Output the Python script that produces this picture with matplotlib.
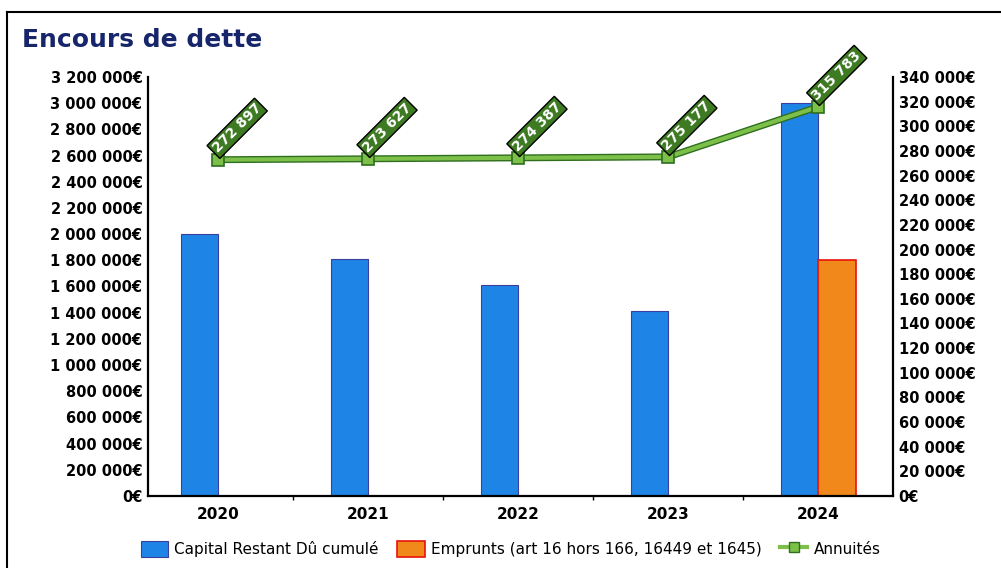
import numpy as np
import matplotlib
matplotlib.use("Agg")
import matplotlib.pyplot as plt
from matplotlib.ticker import FuncFormatter, MultipleLocator
from matplotlib.lines import Line2D

plt.rcParams['font.family'] = ['DejaVu Sans']

years = ['2020', '2021', '2022', '2023', '2024']
capital = [2000000, 1810000, 1610000, 1410000, 3000000]
emprunts = [0, 0, 0, 0, 1800000]
annuites = [272897, 273627, 274387, 275177, 315783]
annuite_labels = ['272 897', '273 627', '274 387', '275 177', '315 783']


def euro(v, pos=None):
    s = '{:,.0f}'.format(v).replace(',', ' ')
    return s + '€'


fig = plt.figure(figsize=(10.01, 5.68), dpi=100)
ax = fig.add_axes([148/1001, 1-496/568, 745/1001, 419/568])

x = np.arange(len(years))
w = 0.25
ax.bar(x - w/2, capital, w, color='#1e84e6', edgecolor='#3b3fa0', linewidth=0.8, zorder=2)
ax.bar(x + w/2, emprunts, w, color='#f0881c', edgecolor='#e8120c', linewidth=1.2, zorder=2)

ax.set_xlim(-0.47, 4.5)
ax.set_ylim(0, 3200000)
ax.set_xticks(x)
ax.set_xticklabels(years, fontsize=11, fontweight='bold')
ax.set_xticks(x[:-1] + 0.5, minor=True)
ax.tick_params(axis='x', which='major', length=0, pad=8)
ax.tick_params(axis='x', which='minor', length=3, width=1)
ax.yaxis.set_major_locator(MultipleLocator(200000))
ax.yaxis.set_major_formatter(FuncFormatter(euro))
ax.tick_params(axis='y', length=0, labelsize=10.5, pad=4)
for lab in ax.get_yticklabels():
    lab.set_fontweight('bold')
ax.spines['top'].set_visible(False)
ax.spines['left'].set_linewidth(1.6)
ax.spines['bottom'].set_linewidth(1.6)
ax.spines['right'].set_visible(False)

ax2 = ax.twinx()
ax2.set_ylim(0, 340000)
ax2.yaxis.set_major_locator(MultipleLocator(20000))
ax2.yaxis.set_major_formatter(FuncFormatter(euro))
ax2.tick_params(axis='y', length=0, labelsize=10.5, pad=4)
for lab in ax2.get_yticklabels():
    lab.set_fontweight('bold')
ax2.spines['top'].set_visible(False)
ax2.spines['left'].set_visible(False)
ax2.spines['bottom'].set_visible(False)
ax2.spines['right'].set_linewidth(1.6)

ax2.plot(x, annuites, color='#2f6e1f', linewidth=5, zorder=3, solid_capstyle='butt')
ax2.plot(x, annuites, color='#7cc04a', linewidth=3, marker='s', markersize=8,
         markerfacecolor='#7cc04a', markeredgecolor='#2f6e1f', markeredgewidth=1.2, zorder=4)
for xi, yi, lab in zip(x, annuites, annuite_labels):
    ax2.annotate(lab, (xi, yi), xytext=(1, 3), textcoords='offset points',
                 rotation=45, rotation_mode='anchor', ha='left', va='bottom',
                 fontsize=10, fontweight='bold', color='white', zorder=5,
                 bbox=dict(boxstyle='square,pad=0.15', fc='#3d7a22', ec='black', lw=1))

fig.text(22/1001, 1-40/568, 'Encours de dette', fontsize=18, fontweight='bold',
         color='#17256a', va='center', ha='left')

# border of the scanned frame
fig.add_artist(Line2D([7/1001, 7/1001], [0, 1-12/568], transform=fig.transFigure, color='black', lw=1.5))
fig.add_artist(Line2D([7/1001, 1], [1-12/568, 1-12/568], transform=fig.transFigure, color='black', lw=1.5))

handles = [
    plt.Rectangle((0, 0), 1, 1, fc='#1e84e6', ec='#3b3fa0', lw=0.8),
    plt.Rectangle((0, 0), 1, 1, fc='#f0881c', ec='#e8120c', lw=1.2),
    Line2D([], [], color='#7cc04a', lw=3, marker='s', markersize=7,
           markerfacecolor='#7cc04a', markeredgecolor='#2f6e1f'),
]
labels = ['Capital Restant Dû cumulé', 'Emprunts (art 16 hors 166, 16449 et 1645)', 'Annuités']
fig.legend(handles, labels, loc='center', bbox_to_anchor=(0.51, 1-549/568), ncol=3,
           frameon=False, fontsize=11, handlelength=1.8, handleheight=1.3,
           handletextpad=0.4, columnspacing=1.2)

fig.savefig('out.png', dpi=100)
